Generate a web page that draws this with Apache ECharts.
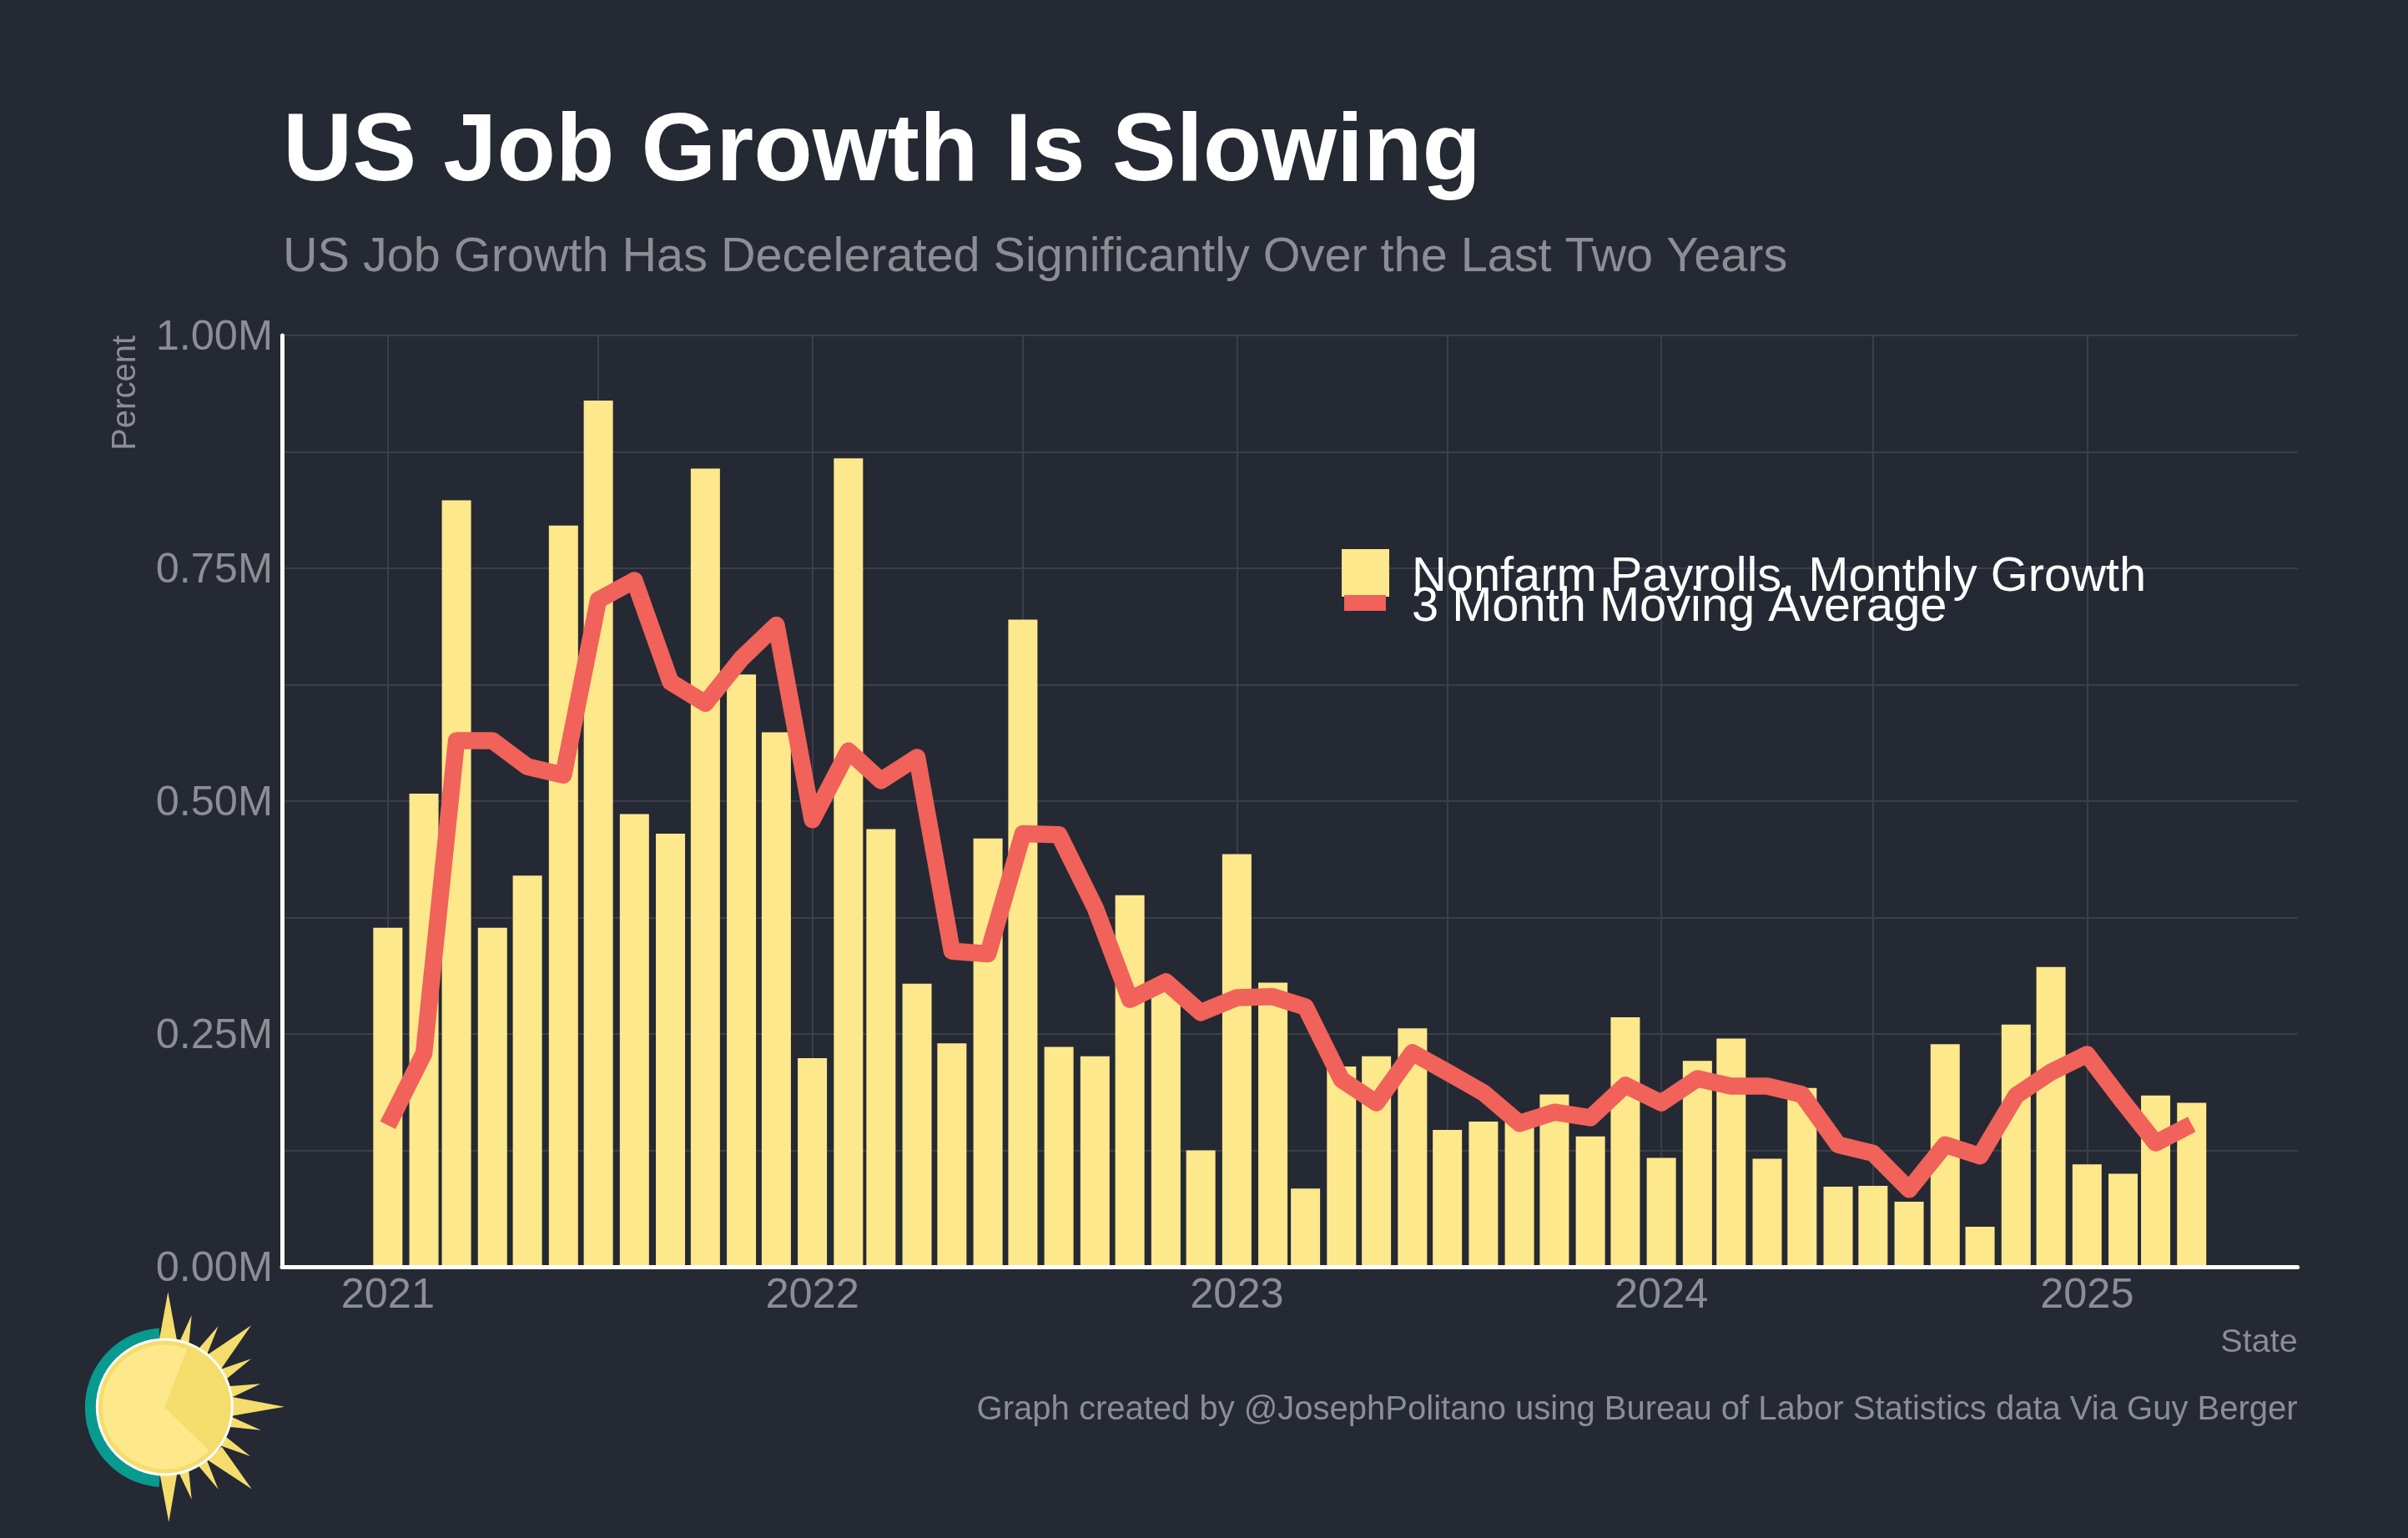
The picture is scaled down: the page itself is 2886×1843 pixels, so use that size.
<!DOCTYPE html>
<html><head><meta charset="utf-8">
<style>html,body{margin:0;padding:0;background:#252933}#c{width:2886px;height:1843px}</style>
<script src="https://cdn.jsdelivr.net/npm/echarts@6/dist/echarts.min.js"></script>
</head><body><div id="c"></div>
<script>
const years = [2021,2022,2023,2024,2025];
const payrolls = [
 .364,.508,.823,.364,.420,.796,.930,.486,.465,.857,.636,.574,
 .224,.868,.470,.304,.240,.460,.695,.236,.226,.399,.297,.125,
 .443,.305,.084,.215,.226,.256,.147,.156,.155,.185,.140,.268,
 .117,.221,.245,.116,.192,.086,.087,.070,.239,.043,.260,.322,
 .110,.100,.184,.176];
const movingAvg = [
 .152,.229,.565,.565,.537,.528,.716,.737,.628,.605,.653,.689,
 .480,.554,.522,.547,.339,.336,.465,.464,.386,.287,.306,.273,
 .289,.290,.279,.201,.176,.230,.209,.187,.154,.166,.160,.195,
 .176,.202,.194,.194,.185,.131,.122,.083,.131,.119,.184,.209,
 .228,.177,.133,.153];
const BG='#252933', YEL='#fee88c', RED='#f0625a', GREY='#8d8e94', GRID='#3c3f49';
const FONT='"Liberation Sans", Arial, sans-serif';
const monthStart = payrolls.map((_,i)=>Date.UTC(2021,i,1));
const yearTicks = years.map(y=>Date.UTC(y,0,1));
const halfYearTicks = [];
years.forEach(y=>{halfYearTicks.push(Date.UTC(y,0,1)); if(y<2025) halfYearTicks.push(Date.UTC(y,6,1));});
const xMin=Date.UTC(2020,9,2), xMax=Date.UTC(2025,6,1);

// logo (decorative), reference px of a 3x crop with origin (0,1480)
const rays=[[570,372,604,205,640,375],[645,378,689,288,683,385],[718,400,785,327,752,420],[755,420,903,325,805,475],
 [805,475,903,445,822,515],[830,540,937,535,850,580],[848,580,1023,617,845,652],[848,657,938,701,833,693],
 [820,728,900,795,805,765],[808,768,905,913,752,817],[752,820,785,914,718,838],[683,855,689,950,645,865],[640,865,607,1032,573,868]];
const CX=197.3, CY=1686;
const deg=d=>d*Math.PI/180;
const logo=[
 {type:'sector',z:1,shape:{cx:CX,cy:CY+.7,r:95.5,r0:0,startAngle:deg(94),endAngle:deg(266),clockwise:true},style:{fill:'#089a8e'}},
 ...rays.map(r=>({type:'polygon',z:2,shape:{points:[
   [r[0]/3+(r[0]-592)*-.05/3,r[1]/3+1480+(r[1]-618)*-.05/3],[r[2]/3,r[3]/3+1480],[r[4]/3+(r[4]-592)*-.05/3,r[5]/3+1480+(r[5]-618)*-.05/3]]},style:{fill:'#f4dd6d'}})),
 {type:'circle',z:3,shape:{cx:CX,cy:CY,r:82.5},style:{fill:'#ffffff'}},
 {type:'circle',z:4,shape:{cx:CX,cy:CY,r:79.5},style:{fill:'#f4dd6d'}},
 {type:'sector',z:5,shape:{cx:CX,cy:CY,r:74.5,r0:0,startAngle:deg(44.5),endAngle:deg(291),clockwise:true},style:{fill:YEL}}
];

const chart=echarts.init(document.getElementById('c'),null,{renderer:'canvas'});
chart.setOption({
 animation:false, backgroundColor:BG,
 textStyle:{fontFamily:FONT},
 title:[
  {text:'US Job Growth Is Slowing',left:339,top:127,padding:0,textStyle:{color:'#ffffff',fontSize:115.4,fontWeight:'bold',fontFamily:FONT}},
  {text:'US Job Growth Has Decelerated Significantly Over the Last Two Years',left:339,top:280,padding:0,textStyle:{color:GREY,fontSize:57.6,fontWeight:'normal',fontFamily:FONT}},
  {text:'Graph created by @JosephPolitano using Bureau of Labor Statistics data Via Guy Berger',right:2886-2753.6,top:1670,padding:0,textStyle:{color:GREY,fontSize:40,fontWeight:'normal',fontFamily:FONT}}
 ],
 grid:{left:338,top:402,width:2415.6,height:1116,containLabel:false},
 legend:[
  {data:['Nonfarm Payrolls, Monthly Growth'],left:1608,top:658,padding:0,selectedMode:false,
   icon:'path://M0 0H57V57H0Z M0 68L0 68',itemWidth:57,itemHeight:68,
   textStyle:{color:'#ffffff',fontSize:57.8,fontFamily:FONT,padding:[0,0,0,22]}},
  {data:['3 Month Moving Average'],left:1611,top:699,padding:0,selectedMode:false,
   icon:'path://M0 0H50V19H0Z M0 30L0 30',itemWidth:50,itemHeight:30,
   textStyle:{color:'#ffffff',fontSize:57.8,fontFamily:FONT,padding:[0,0,0,26]}}
 ],
 xAxis:[
  {type:'value',min:xMin,max:xMax,scale:true,
   name:'State',nameLocation:'end',nameGap:0,nameMoveOverlap:false,
   nameTextStyle:{color:GREY,fontSize:39.5,fontFamily:FONT,align:'right',verticalAlign:'top',padding:[71,0,0,0]},
   axisLine:{show:false},
   axisTick:{show:false,customValues:halfYearTicks},
   splitLine:{show:true,lineStyle:{color:GRID,width:2}},
   axisLabel:{show:true,customValues:yearTicks,color:GREY,fontSize:50.5,fontFamily:FONT,margin:10,hideOverlap:false,
    formatter:v=>String(new Date(v).getUTCFullYear())}},
  {type:'value',min:xMin,max:xMax,scale:true,position:'bottom',z:5,
   axisLine:{show:true,lineStyle:{color:'#ffffff',width:5}},axisTick:{show:false},axisLabel:{show:false},splitLine:{show:false}}
 ],
 yAxis:{type:'value',min:0,max:1,interval:.125,
  name:'Percent',nameLocation:'end',nameGap:0,nameRotate:90,nameMoveOverlap:false,
  nameTextStyle:{color:GREY,fontSize:40,fontFamily:FONT,align:'right',verticalAlign:'bottom',padding:[0,0,167,0]},
  axisLine:{show:true,lineStyle:{color:'#ffffff',width:5}},axisTick:{show:false},
  splitLine:{show:true,lineStyle:{color:GRID,width:2}},
  axisLabel:{color:GREY,fontSize:50.5,fontFamily:FONT,margin:11,verticalAlign:'top',lineHeight:6,
   formatter:v=>{const q=v*4;return Math.abs(q-Math.round(q))<1e-9?v.toFixed(2)+'M':'';}}},
 series:[
  {name:'Nonfarm Payrolls, Monthly Growth',type:'bar',xAxisIndex:0,barWidth:35,itemStyle:{color:YEL},
   data:monthStart.map((t,i)=>[t,payrolls[i]])},
  {name:'3 Month Moving Average',type:'line',xAxisIndex:0,showSymbol:false,symbol:'none',z:3,
   itemStyle:{color:RED},lineStyle:{color:RED,width:20.5,cap:'butt',join:'round'},
   data:monthStart.map((t,i)=>[t,movingAvg[i]])}
 ],
 graphic:logo
});
</script></body></html>
